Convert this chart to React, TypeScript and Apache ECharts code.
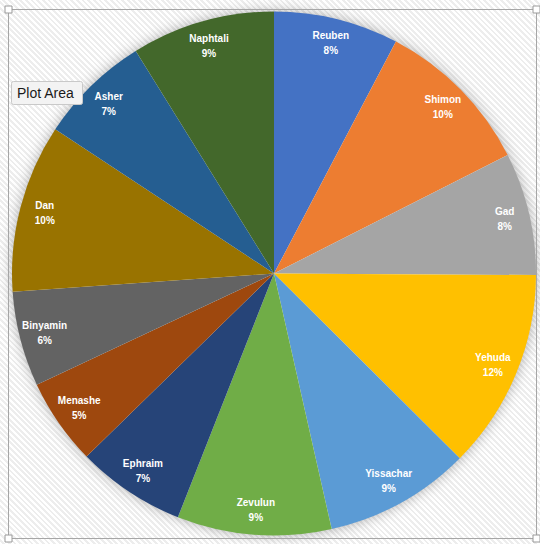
import React, { useEffect, useRef } from "react";
import * as echarts from "echarts";

// Tribe census (Numbers 1) — shown as share of total
const tribes = ["Reuben", "Shimon", "Gad", "Yehuda", "Yissachar", "Zevulun", "Ephraim", "Menashe", "Binyamin", "Dan", "Asher", "Naphtali"];
const counts = [46500, 59300, 45650, 74600, 54400, 57400, 40500, 32200, 35400, 62700, 41500, 53400];
const colors = ["#4472C4", "#ED7D31", "#A5A5A5", "#FFC000", "#5B9BD5", "#70AD47", "#264478", "#9E480E", "#636363", "#997300", "#255E91", "#43682B"];

const CX = 274;
const CY = 273.5;
const R = 262;

export default function App() {
  const ref = useRef<HTMLDivElement>(null);
  useEffect(() => {
    if (!ref.current) return;
    const chart = echarts.init(ref.current, undefined, { renderer: "svg" });
    const data = tribes.map((name, i) => ({ name, value: counts[i], itemStyle: { color: colors[i] } }));
    const handle = (x: number, y: number) => ({
      type: "rect",
      shape: { x: x - 3.5, y: y - 3.5, width: 7, height: 7 },
      style: { fill: "#ffffff", stroke: "#9a9a9a", lineWidth: 1 },
      z: 20,
    });
    chart.setOption({
      animation: false,
      backgroundColor: "transparent",
      graphic: [
        {
          type: "circle",
          shape: { cx: CX, cy: CY, r: R - 1 },
          style: { fill: "#ffffff", shadowBlur: 14, shadowColor: "rgba(0,0,0,0.35)", shadowOffsetX: 0, shadowOffsetY: 0 },
          z: -10,
        },
        {
          type: "rect",
          shape: { x: 8.5, y: 9.5, width: 528, height: 529 },
          style: { fill: "none", stroke: "#a6a6a6", lineWidth: 1 },
          z: 19,
        },
        handle(8.5, 9.5),
        handle(536.5, 9.5),
        handle(8.5, 538.5),
        handle(536.5, 538.5),
        {
          type: "rect",
          shape: { x: 11.5, y: 81.5, width: 71, height: 23, r: 2 },
          style: { fill: "#f3f3f3", stroke: "#c9c9c9", lineWidth: 1 },
          z: 30,
        },
        {
          type: "text",
          x: 17,
          y: 93,
          style: { text: "Plot Area", fill: "#1a1a1a", font: "14px 'Liberation Sans', Arial, sans-serif", textVerticalAlign: "middle" },
          z: 31,
        },
      ],
      series: [
        {
          type: "pie",
          center: [CX, CY],
          radius: [0, R],
          startAngle: 90,
          clockwise: true,
          silent: true,
          label: { show: false },
          labelLine: { show: false },
          itemStyle: { borderWidth: 0 },
          data,
          z: 2,
        },
        {
          type: "pie",
          center: [CX, CY],
          radius: [206, R],
          startAngle: 90,
          clockwise: true,
          silent: true,
          percentPrecision: 0,
          itemStyle: { color: "rgba(0,0,0,0)", borderWidth: 0 },
          label: {
            show: true,
            position: "inside",
            formatter: "{b}\n{d}%",
            color: "#ffffff",
            fontWeight: "bold",
            fontSize: 10,
            lineHeight: 15,
            fontFamily: "'Liberation Sans', Arial, sans-serif",
            align: "center",
          },
          labelLine: { show: false },
          data: tribes.map((name, i) => ({ name, value: counts[i] })),
          z: 3,
        },
      ],
    });
    return () => chart.dispose();
  }, []);
  return (
    <div
      style={{
        position: "fixed",
        left: 0,
        top: 0,
        width: 540,
        height: 544,
        background: "repeating-linear-gradient(45deg, #ffffff 0px, #ffffff 2px, #ededed 2px, #ededed 4px)",
      }}
    >
      <div ref={ref} style={{ width: 540, height: 544 }} />
    </div>
  );
}
